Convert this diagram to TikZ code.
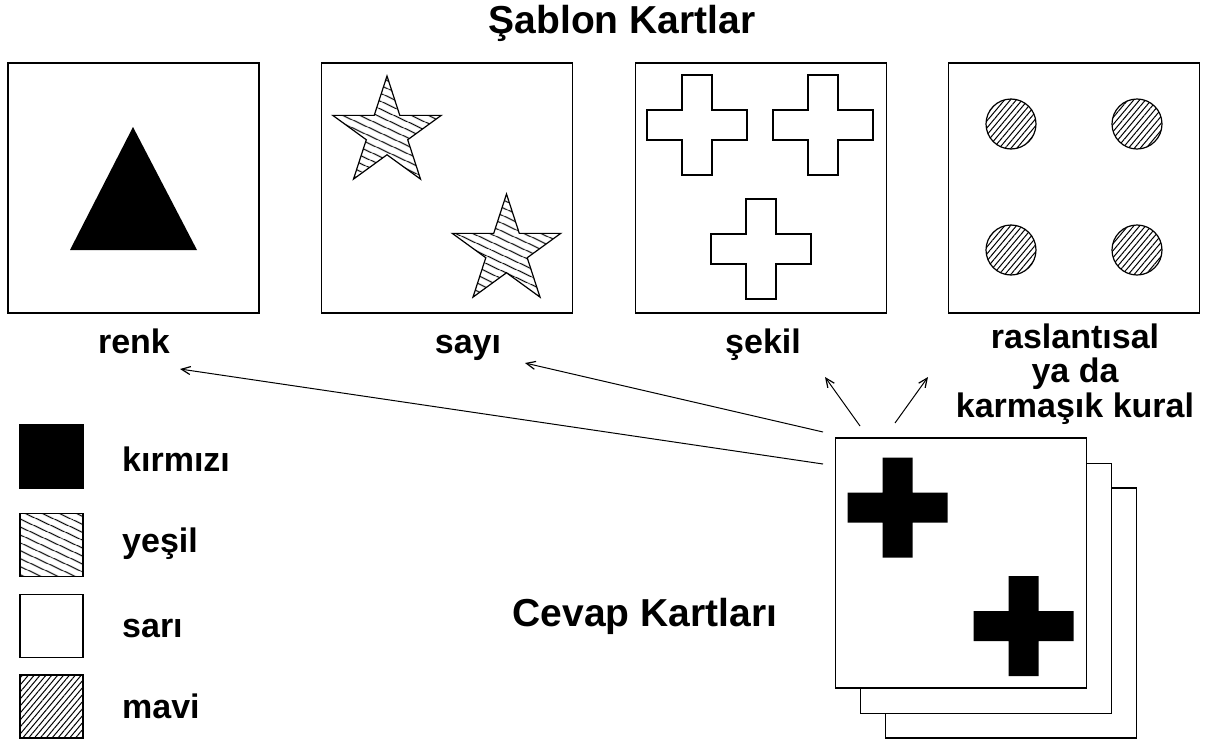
\documentclass[tikz,border=0pt]{standalone}
\usepackage{fontspec}
\setmainfont{Liberation Sans}
\usetikzlibrary{shapes.geometric,patterns.meta,arrows.meta}
\tikzset{
	kart/.style={draw,line width=1.5pt,minimum width=251pt,minimum height=250pt,inner sep=0pt,fill=white},
	etiket/.style={font=\fontsize{34}{34.5}\selectfont\bfseries,inner sep=0pt,anchor=base,align=center},
	baslik/.style={font=\fontsize{39}{40}\selectfont\bfseries,inner sep=0pt,anchor=base},
	yesil/.style={pattern={Lines[angle=-25,distance=6.5pt,line width=1.1pt]}},
	mavi/.style={pattern={Lines[angle=50,distance=4.5pt,line width=1pt]}},
	yildiz/.style={draw,line width=1.2pt,star,star points=5,star point ratio=2.618,minimum size=114pt,inner sep=0pt,yesil},
	top/.style={draw,line width=1.2pt,circle,minimum size=50pt,inner sep=0pt,mavi},
	kare/.style={draw,line width=1.2pt,minimum size=63pt,inner sep=0pt},
	ok/.style={-{Straight Barb[length=9pt,width=8pt,line width=1.2pt]},line width=1pt},
	pics/arti/.style={code={\path[pic actions](-15,-50)--(15,-50)--(15,-15)--(50,-15)--(50,15)--(15,15)--(15,50)--(-15,50)--(-15,15)--(-50,15)--(-50,-15)--(-15,-15)--cycle;}}
}
\begin{document}
\begin{tikzpicture}[x=1pt,y=-1pt]
\useasboundingbox (0,0) rectangle (1207,744);
\node[baslik](sablon) at (622,33){Şablon Kartlar};
% sablon kartlar
\node[kart](k1) at (133.5,188){};
\node[kart](k2) at (447,188){};
\node[kart](k3) at (761,188){};
\node[kart](k4) at (1074,188){};
\fill (133,127)--(197,250)--(70,250)--cycle;
\node[yildiz](y1) at (387,133){};
\node[yildiz](y2) at (506.5,251){};
\pic[draw,line width=1.5pt,line join=miter](a1) at (697,125){arti};
\pic[draw,line width=1.5pt,line join=miter](a2) at (823,125){arti};
\pic[draw,line width=1.5pt,line join=miter](a3) at (761,249){arti};
\foreach \x/\y [count=\i] in {1011/124,1137/124,1011/250,1137/250}
	\node[top](t\i) at (\x,\y){};
\node[etiket](renk) at (134,353){renk};
\node[etiket](sayi) at (468,353){sayı};
\node[etiket](sekil) at (763,353){şekil};
\node[etiket](rast) at (1075,417){raslantısal\\ya da\\karmaşık kural};
% cevap kartlari
\node[kart](c3) at (1011,613){};
\node[kart](c2) at (986,588.5){};
\node[kart](c1) at (961,563){};
\pic[fill=black](b1) at (897.5,507.5){arti};
\pic[fill=black](b2) at (1023.5,626){arti};
\node[baslik](cevap) at (645,626){Cevap Kartları};
% oklar
\coordinate(o1) at (823,464); \coordinate(u1) at (180,369);
\coordinate(o2) at (823,432); \coordinate(u2) at (525,363);
\coordinate(o3) at (860,426); \coordinate(u3) at (825,377);
\coordinate(o4) at (895,423); \coordinate(u4) at (928,377);
\foreach \i in {1,...,4}\draw[ok](o\i)--(u\i);
% renkler
\node[kare,fill=black](kr) at (51.5,456.5){};
\node[kare,yesil](ye) at (51.5,545){};
\node[kare](sa) at (51.5,626){};
\node[kare,mavi](ma) at (51.5,706.5){};
\node[etiket,anchor=base west](krt) at (122,471){kırmızı};
\node[etiket,anchor=base west](yet) at (122,552){yeşil};
\node[etiket,anchor=base west](sat) at (122,637){sarı};
\node[etiket,anchor=base west](mat) at (122,718){mavi};
\end{tikzpicture}
\end{document}
